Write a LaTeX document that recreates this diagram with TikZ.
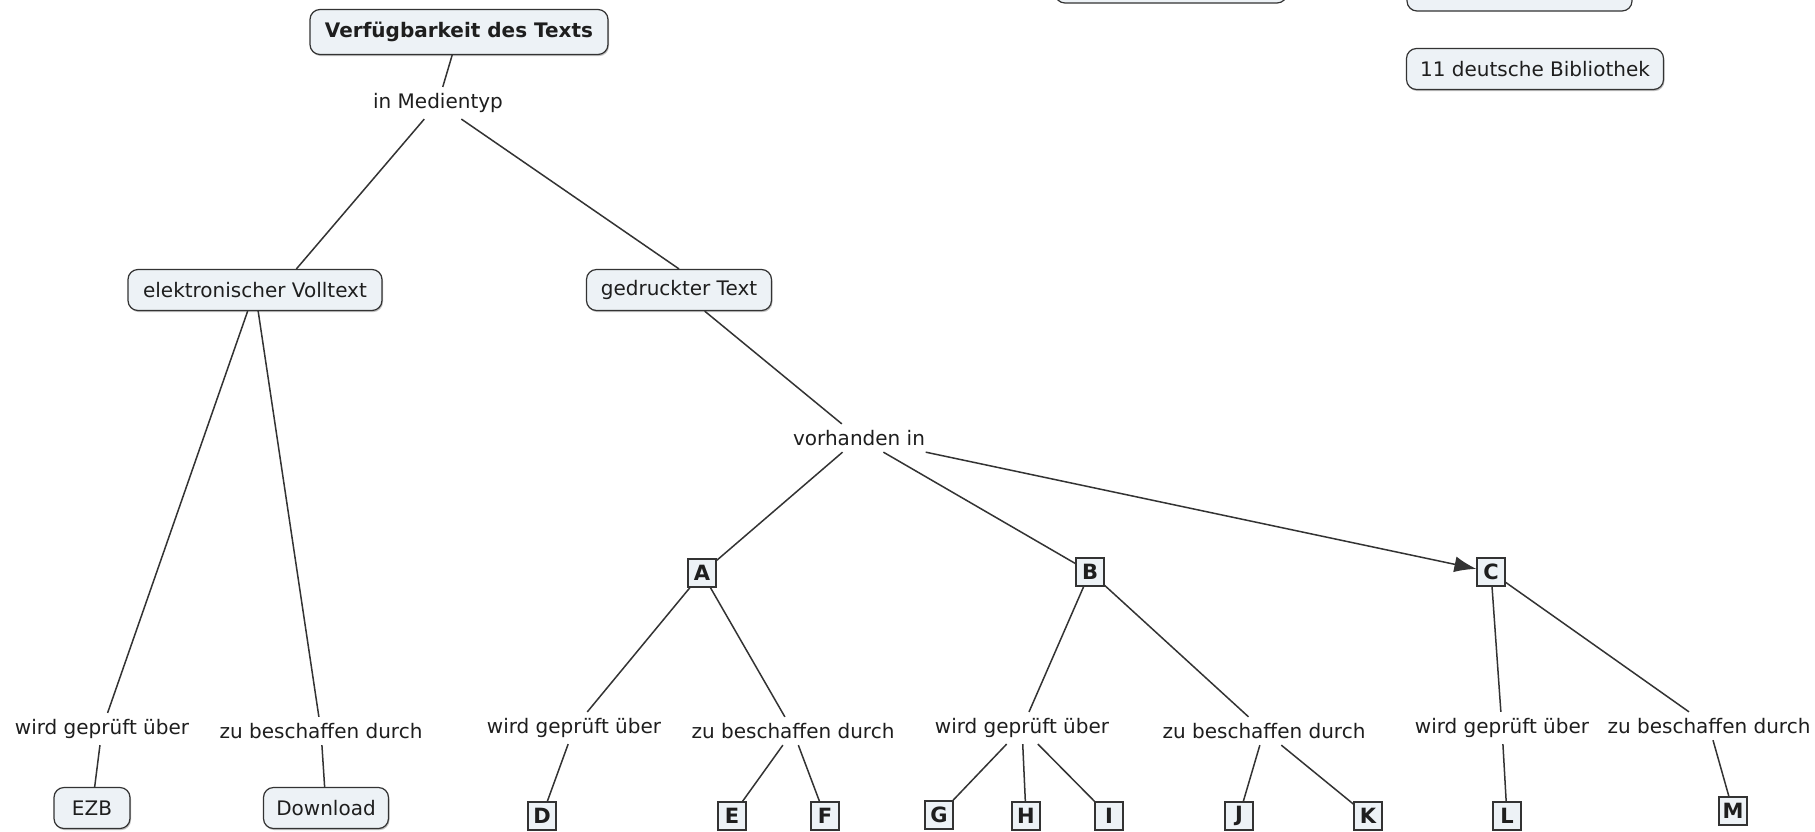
\documentclass[tikz,border=0pt]{standalone}
\usepackage{fontspec}
\setmainfont{DejaVu Sans}
\usetikzlibrary{arrows.meta,shadows}
\definecolor{boxfill}{HTML}{EDF2F6}
\definecolor{edgecol}{HTML}{333333}
\definecolor{txt}{HTML}{1E1E1E}
\begin{document}
\begin{tikzpicture}[x=0.5pt,y=-0.5pt,
  every node/.style={text=txt},
  concept/.style={draw=edgecol, fill=boxfill, rounded corners=5pt, line width=0.6pt,
    inner xsep=5pt, minimum height=20.5pt, font=\fontsize{10}{12}\selectfont,
    drop shadow={shadow xshift=0.5pt, shadow yshift=-0.8pt, fill=black!40, opacity=0.6}},
  letterbox/.style={draw=edgecol, fill=boxfill, line width=0.6pt, minimum size=14pt,
    inner sep=0pt, font=\bfseries\fontsize{10.5}{12}\selectfont,
    drop shadow={shadow xshift=0.5pt, shadow yshift=-0.6pt, fill=black!40, opacity=0.6}},
  linklabel/.style={inner sep=3pt, font=\fontsize{10}{12}\selectfont, fill=white},
  conn/.style={draw=edgecol, line width=0.75pt},
  arr/.style={conn, -{Latex[length=11pt,width=8pt]}}
]
\useasboundingbox (0,0) rectangle (1815,831);
\fill[white] (0,0) rectangle (1815,831);

% boxes cut off at the top edge
\draw[draw=edgecol, fill=boxfill, rounded corners=5pt, line width=0.6pt] (1055,-60) rectangle (1287,3);
\draw[draw=edgecol, fill=boxfill, rounded corners=5pt, line width=0.6pt] (1407,-60) rectangle (1632,11);

% concepts
\node[concept, font=\bfseries\fontsize{10}{12}\selectfont, minimum width=149pt, minimum height=22.5pt] (title) at (459,32) {Verfügbarkeit des Texts};
\node[concept, minimum width=128.5pt] (bib) at (1535,69) {11 deutsche Bibliothek};
\node[concept, minimum width=127pt] (elek) at (255,290) {elektronischer Volltext};
\node[concept, minimum width=92.5pt] (ged) at (679,290) {gedruckter Text};
\node[concept, minimum width=38pt] (ezb) at (92,808) {EZB};
\node[concept, minimum width=62.5pt] (dl) at (326,808) {Download};

% link labels
\node[linklabel] (medien) at (438,103) {in Medientyp};
\node[linklabel] (vorh) at (859,438) {vorhanden in};
\node[linklabel] (w1) at (102,729) {wird geprüft über};
\node[linklabel] (z1) at (321,731) {zu beschaffen durch};
\node[linklabel] (w2) at (574,728) {wird geprüft über};
\node[linklabel] (z2) at (793,731) {zu beschaffen durch};
\node[linklabel] (w3) at (1022,728) {wird geprüft über};
\node[linklabel] (z3) at (1264,731) {zu beschaffen durch};
\node[linklabel] (w4) at (1502,728) {wird geprüft über};
\node[linklabel] (z4) at (1709,726) {zu beschaffen durch};

% letter boxes
\node[letterbox] (A) at (702,573) {A};
\node[letterbox] (B) at (1090,572) {B};
\node[letterbox] (C) at (1491,572) {C};
\node[letterbox] (D) at (542,816) {D};
\node[letterbox] (E) at (732,816) {E};
\node[letterbox] (F) at (825,816) {F};
\node[letterbox] (G) at (939,815) {G};
\node[letterbox] (H) at (1026,816) {H};
\node[letterbox] (I) at (1109,816) {I};
\node[letterbox] (J) at (1239,816) {J};
\node[letterbox] (K) at (1368,816) {K};
\node[letterbox] (L) at (1507,816) {L};
\node[letterbox] (M) at (1733,811) {M};

% connectors
\draw[conn] (title) -- (medien);
\draw[conn] (medien) -- (elek.27);
\draw[conn] (medien) -- (ged.north);
\draw[conn] (elek) -- (w1);
\draw[conn] (elek) -- (z1);
\draw[conn] (w1) -- (ezb);
\draw[conn] (z1) -- (dl);
\draw[conn] (ged) -- (vorh);
\draw[conn] (vorh) -- (A);
\draw[conn] (vorh) -- (B);
\draw[arr] (vorh) -- (C);
\draw[conn] (A) -- (w2);
\draw[conn] (A) -- (z2);
\draw[conn] (w2) -- (D);
\draw[conn] (z2) -- (E);
\draw[conn] (z2) -- (F);
\draw[conn] (B) -- (w3);
\draw[conn] (B) -- (z3);
\draw[conn] (w3) -- (G);
\draw[conn] (w3) -- (H);
\draw[conn] (w3) -- (I);
\draw[conn] (z3) -- (J);
\draw[conn] (z3) -- (K);
\draw[conn] (C) -- (w4);
\draw[conn] (C) -- (z4);
\draw[conn] (w4) -- (L);
\draw[conn] (z4) -- (M);
\end{tikzpicture}
\end{document}
